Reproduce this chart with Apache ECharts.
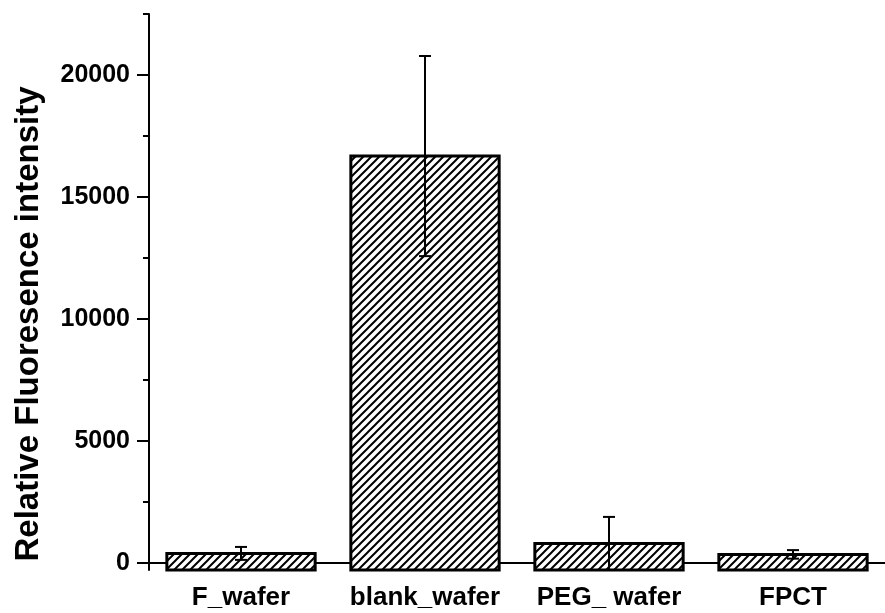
<!DOCTYPE html>
<html><head><meta charset="utf-8">
<script src="https://cdn.jsdelivr.net/npm/echarts@6/dist/echarts.min.js"></script>
<style>html,body{margin:0;padding:0;background:#fff}#c{width:885px;height:613px}</style>
</head><body><div id="c"></div>
<script>
// ---- data ----
const categories = ['F_wafer', 'blank_wafer', 'PEG_ wafer', 'FPCT'];
const means = [400, 16680, 805, 360];
const errors = [265, 4100, 1090, 175];
const yMajorTicks = [0, 5000, 10000, 15000, 20000];
const yMinorTicks = [2500, 7500, 12500, 17500, 22500];
const yMin = -280;
const yMax = 22500;

// ---- hatch pattern ----
function makeHatch() {
  const s = 8;
  const cv = document.createElement('canvas');
  cv.width = s; cv.height = s;
  const g = cv.getContext('2d');
  g.fillStyle = '#fff'; g.fillRect(0, 0, s, s);
  g.strokeStyle = '#000'; g.lineWidth = 2;
  g.beginPath();
  g.moveTo(-2, 2); g.lineTo(2, -2);
  g.moveTo(0, s); g.lineTo(s, 0);
  g.moveTo(s - 2, s + 2); g.lineTo(s + 2, s - 2);
  g.stroke();
  return cv;
}
const hatch = { image: makeHatch(), repeat: 'repeat' };

const FONT = '"Liberation Sans", Arial, sans-serif';
const chart = echarts.init(document.getElementById('c'), null, { renderer: 'canvas' });

const seriesData = categories.map((c, i) => [i, means[i], errors[i]]);

chart.setOption({
  animation: false,
  backgroundColor: '#fff',
  grid: { left: 149, top: 14, width: 744, height: 556 },
  xAxis: [{
    type: 'category', data: categories, boundaryGap: true,
    axisLine: { lineStyle: { color: '#000', width: 2 } },
    axisTick: { alignWithLabel: true, length: 10, lineStyle: { color: '#000', width: 2 } },
    axisLabel: { color: '#000', fontFamily: FONT, fontWeight: 'bold', fontSize: 26, margin: 15, interval: 0 },
    splitLine: { show: false }
  }, {
    type: 'category', data: categories, boundaryGap: true, position: 'bottom',
    axisLine: { show: false },
    axisTick: { length: 6, interval: 0, lineStyle: { color: '#000', width: 2 } },
    axisLabel: { show: false },
    splitLine: { show: false }
  }],
  yAxis: [{
    type: 'value', min: yMin, max: yMax,
    axisLine: { show: true, lineStyle: { color: '#000', width: 2 } },
    axisTick: { show: true, customValues: yMajorTicks, length: 12, lineStyle: { color: '#000', width: 2 } },
    axisLabel: { customValues: yMajorTicks, formatter: function (v) { return String(v); }, color: '#000', fontFamily: FONT, fontWeight: 'bold', fontSize: 25, margin: 19 },
    splitLine: { show: false }
  }, {
    type: 'value', min: yMin, max: yMax, position: 'left',
    axisLine: { show: false },
    axisTick: { show: true, customValues: yMinorTicks, length: 6, lineStyle: { color: '#000', width: 2 } },
    axisLabel: { show: false },
    splitLine: { show: false }
  }],
  graphic: [{
    type: 'text', x: 29, y: 324, rotation: Math.PI / 2,
    style: { text: 'Relative Fluoresence intensity', fill: '#000', font: 'bold 33px ' + FONT, textAlign: 'center', textVerticalAlign: 'middle' }
  }],
  series: [{
    type: 'custom', xAxisIndex: 0, yAxisIndex: 0,
    encode: { x: 0, y: 1 },
    data: seriesData,
    renderItem: function (params, api) {
      const i = api.value(0), v = api.value(1);
      const top = api.coord([i, v]);
      const bot = api.coord([i, yMin]);
      const w = api.size([1, 0])[0] * 0.806;
      return {
        type: 'rect',
        shape: { x: top[0] - w / 2, y: top[1], width: w, height: bot[1] - top[1] },
        style: { fill: hatch, stroke: '#000', lineWidth: 3 }
      };
    },
    z: 2
  }, {
    type: 'custom', xAxisIndex: 0, yAxisIndex: 0,
    encode: { x: 0, y: 1 },
    data: seriesData,
    renderItem: function (params, api) {
      const i = api.value(0), v = api.value(1), e = api.value(2);
      const hi = api.coord([i, v + e]);
      const lo = api.coord([i, Math.max(v - e, yMin)]);
      const cw = 6;
      const children = [
        { type: 'line', shape: { x1: hi[0], y1: hi[1], x2: lo[0], y2: lo[1] }, style: { stroke: '#000', lineWidth: 2 } },
        { type: 'line', shape: { x1: hi[0] - cw, y1: hi[1], x2: hi[0] + cw, y2: hi[1] }, style: { stroke: '#000', lineWidth: 2 } }
      ];
      if (v - e > yMin) {
        children.push({ type: 'line', shape: { x1: lo[0] - cw, y1: lo[1], x2: lo[0] + cw, y2: lo[1] }, style: { stroke: '#000', lineWidth: 2 } });
      }
      return { type: 'group', children: children };
    },
    z: 3
  }]
});
</script>
</body></html>
